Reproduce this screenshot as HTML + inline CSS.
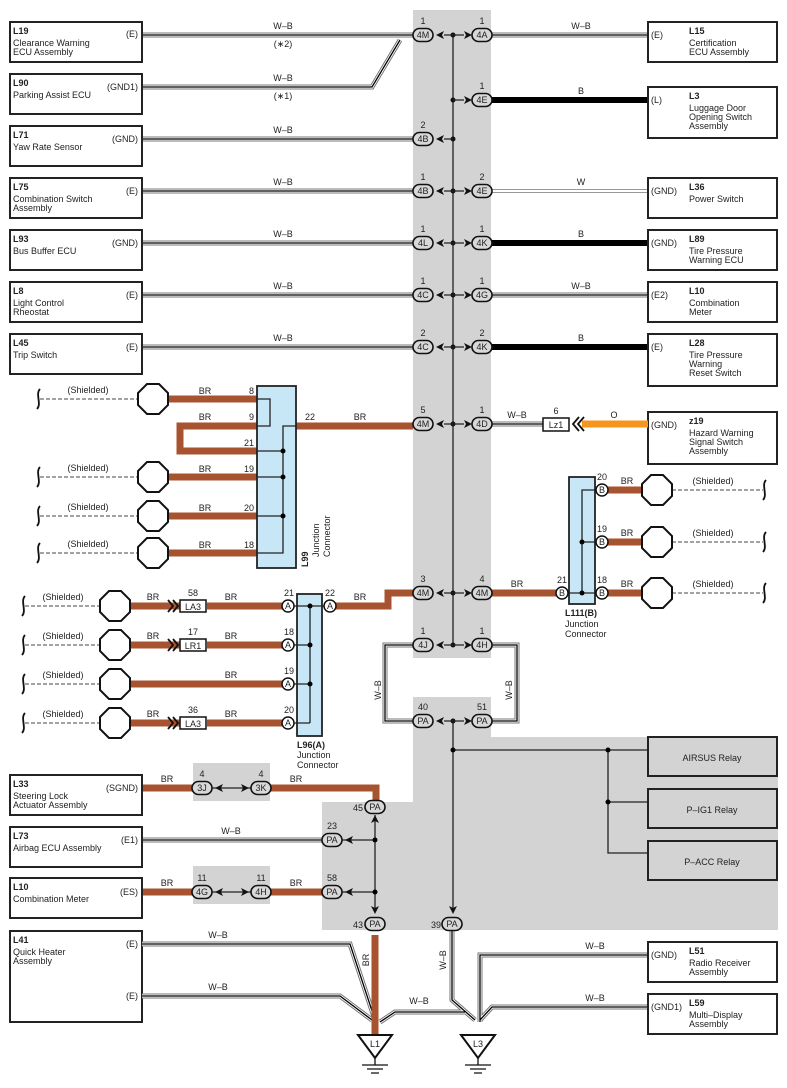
<!DOCTYPE html>
<html><head><meta charset="utf-8">
<style>
body{margin:0;background:#fff}
svg{display:block;font-family:"Liberation Sans",Arial,sans-serif}
text{font-size:9px;fill:#222}
.b{font-weight:bold}
.wb1{fill:none;stroke:#777;stroke-width:5}
.wb2{fill:none;stroke:#fff;stroke-width:3}
.wb3{fill:none;stroke:#000;stroke-width:1.3}
.br{fill:none;stroke:#a8532f;stroke-width:7}
.bk{fill:none;stroke:#000;stroke-width:6}
.box{fill:#fff;stroke:#222;stroke-width:2}
.pill{fill:#d8d8d8;stroke:#111;stroke-width:1.6}
.pt{font-size:8px;text-anchor:middle}
.ln{stroke:#222;stroke-width:1.3;fill:none}
.oct{fill:#fff;stroke:#111;stroke-width:2}
.dash{stroke:#444;stroke-width:1;stroke-dasharray:4,2;fill:none}
.pc{fill:#fff;stroke:#111;stroke-width:1.5}
.mid{text-anchor:middle}
</style></head><body>
<svg width="787" height="1088" viewBox="0 0 787 1088">
<rect x="413" y="10" width="78" height="648" fill="#d3d3d4"/>
<polygon points="413,697 491,697 491,737 778,737 778,930 322,930 322,802 413,802" fill="#d3d3d4"/>
<rect x="193" y="763" width="77" height="38" fill="#d3d3d4"/>
<rect x="193" y="866" width="77" height="38" fill="#d3d3d4"/>

<line class="ln" x1="453" y1="35" x2="453" y2="645"/>
<line class="ln" x1="453" y1="721" x2="453" y2="912"/>

<g>
<path class="wb1" d="M142,35H413 M142,87H372L400,40 M142,139H413 M142,191H413 M142,243H413 M142,295H413 M142,347H413"/>
<path class="wb2" d="M142,35H413 M142,87H372L400,40 M142,139H413 M142,191H413 M142,243H413 M142,295H413 M142,347H413"/>
<path class="wb3" d="M142,35H413 M142,87H372L400,40 M142,139H413 M142,191H413 M142,243H413 M142,295H413 M142,347H413"/>
</g>
<g class="mid">
<text x="283" y="29">W–B</text><text x="283" y="47">(∗2)</text>
<text x="283" y="81">W–B</text><text x="283" y="99">(∗1)</text>
<text x="283" y="133">W–B</text><text x="283" y="185">W–B</text><text x="283" y="237">W–B</text><text x="283" y="289">W–B</text><text x="283" y="341">W–B</text>
</g>
<path class="wb1" d="M492,35H648 M492,243H648 M492,295H648"/>
<path class="wb2" d="M492,35H648 M492,243H648 M492,295H648"/>
<path class="wb3" d="M492,35H648 M492,243H648 M492,295H648"/>
<path d="M492,191H648" stroke="#999" stroke-width="4" fill="none"/><path d="M492,191H648" stroke="#fff" stroke-width="2" fill="none"/>
<path class="bk" d="M492,100H648 M492,243H648 M492,347H648"/>
<g class="mid">
<text x="581" y="29">W–B</text><text x="581" y="94">B</text><text x="581" y="185">W</text><text x="581" y="237">B</text><text x="581" y="289">W–B</text><text x="581" y="341">B</text>
</g>

<rect class="box" x="10" y="22" width="132" height="40"/><text x="13" y="34" class="b">L19</text><text x="13" y="46">Clearance Warning</text><text x="13" y="55">ECU Assembly</text><text x="138" y="37" text-anchor="end">(E)</text>
<rect class="box" x="10" y="74" width="132" height="40"/><text x="13" y="86" class="b">L90</text><text x="13" y="98">Parking Assist ECU</text><text x="138" y="90" text-anchor="end">(GND1)</text>
<rect class="box" x="10" y="126" width="132" height="40"/><text x="13" y="138" class="b">L71</text><text x="13" y="150">Yaw Rate Sensor</text><text x="138" y="142" text-anchor="end">(GND)</text>
<rect class="box" x="10" y="178" width="132" height="40"/><text x="13" y="190" class="b">L75</text><text x="13" y="202">Combination Switch</text><text x="13" y="211">Assembly</text><text x="138" y="194" text-anchor="end">(E)</text>
<rect class="box" x="10" y="230" width="132" height="40"/><text x="13" y="242" class="b">L93</text><text x="13" y="254">Bus Buffer ECU</text><text x="138" y="246" text-anchor="end">(GND)</text>
<rect class="box" x="10" y="282" width="132" height="40"/><text x="13" y="294" class="b">L8</text><text x="13" y="306">Light Control</text><text x="13" y="315">Rheostat</text><text x="138" y="298" text-anchor="end">(E)</text>
<rect class="box" x="10" y="334" width="132" height="40"/><text x="13" y="346" class="b">L45</text><text x="13" y="358">Trip Switch</text><text x="138" y="350" text-anchor="end">(E)</text>

<rect class="box" x="648" y="22" width="129" height="40"/><text x="651" y="38">(E)</text><text x="689" y="34" class="b">L15</text><text x="689" y="46">Certification</text><text x="689" y="55">ECU Assembly</text>
<rect class="box" x="648" y="87" width="129" height="51"/><text x="651" y="103">(L)</text><text x="689" y="99" class="b">L3</text><text x="689" y="111">Luggage Door</text><text x="689" y="120">Opening Switch</text><text x="689" y="129">Assembly</text>
<rect class="box" x="648" y="178" width="129" height="40"/><text x="651" y="194">(GND)</text><text x="689" y="190" class="b">L36</text><text x="689" y="202">Power Switch</text>
<rect class="box" x="648" y="230" width="129" height="40"/><text x="651" y="246">(GND)</text><text x="689" y="242" class="b">L89</text><text x="689" y="254">Tire Pressure</text><text x="689" y="263">Warning ECU</text>
<rect class="box" x="648" y="282" width="129" height="40"/><text x="651" y="298">(E2)</text><text x="689" y="294" class="b">L10</text><text x="689" y="306">Combination</text><text x="689" y="315">Meter</text>
<rect class="box" x="648" y="334" width="129" height="52"/><text x="651" y="350">(E)</text><text x="689" y="346" class="b">L28</text><text x="689" y="358">Tire Pressure</text><text x="689" y="367">Warning</text><text x="689" y="376">Reset Switch</text>
<rect class="box" x="648" y="412" width="129" height="52"/><text x="651" y="428">(GND)</text><text x="689" y="424" class="b">z19</text><text x="689" y="436">Hazard Warning</text><text x="689" y="445">Signal Switch</text><text x="689" y="454">Assembly</text>

<path class="wb1" d="M492,424H543"/><path class="wb2" d="M492,424H543"/><path class="wb3" d="M492,424H543"/>
<text x="517" y="418" class="mid">W–B</text>
<rect x="543" y="418" width="26" height="13" fill="#fff" stroke="#111" stroke-width="1.5"/><text x="556" y="428" class="mid">Lz1</text><text x="556" y="414" class="mid">6</text>
<path d="M582,424H648" stroke="#f7941d" stroke-width="7"/>
<path d="M579,417l-6,7l6,7M584,417l-6,7l6,7" stroke="#111" stroke-width="1.8" fill="none"/>
<text x="614" y="418" class="mid">O</text>

<path class="br" d="M168,399H257 M168,477H257 M168,516H257 M168,553H257 M257,426H180V451H257 M296,426H413"/>
<rect x="257" y="386" width="39" height="182" fill="#c7e7f6" stroke="#222" stroke-width="1.8"/>
<path class="ln" d="M257,399H270V426H257 M296,426H283V553H257 M257,451H283 M257,477H283 M257,516H283" stroke-width="1"/>
<circle cx="283" cy="451" r="2.5"/><circle cx="283" cy="477" r="2.5"/><circle cx="283" cy="516" r="2.5"/>
<g text-anchor="end"><text x="254" y="394">8</text><text x="254" y="420">9</text><text x="254" y="446">21</text><text x="254" y="472">19</text><text x="254" y="511">20</text><text x="254" y="548">18</text></g>
<g class="mid"><text x="205" y="394">BR</text><text x="205" y="420">BR</text><text x="205" y="472">BR</text><text x="205" y="511">BR</text><text x="205" y="548">BR</text><text x="360" y="420">BR</text></g>
<text x="305" y="420">22</text>
<text transform="translate(308,567) rotate(-90)" class="b">L99</text>
<text transform="translate(319,557) rotate(-90)">Junction</text>
<text transform="translate(330,557) rotate(-90)">Connector</text>

<g>
<path class="dash" d="M40,399H138 M40,477H138 M40,516H138 M40,553H138 M25,606H100 M25,645H100 M25,684H100 M25,723H100"/>
<path class="dash" d="M672,490H763 M672,542H763 M672,593H763"/>
<g class="mid"><text x="88" y="393">(Shielded)</text><text x="88" y="471">(Shielded)</text><text x="88" y="510">(Shielded)</text><text x="88" y="547">(Shielded)</text>
<text x="63" y="600">(Shielded)</text><text x="63" y="639">(Shielded)</text><text x="63" y="678">(Shielded)</text><text x="63" y="717">(Shielded)</text>
<text x="713" y="484">(Shielded)</text><text x="713" y="536">(Shielded)</text><text x="713" y="587">(Shielded)</text></g>
<path d="M40,389c-5,5 2,15 -3,20 M40,467c-5,5 2,15 -3,20 M40,506c-5,5 2,15 -3,20 M40,543c-5,5 2,15 -3,20 M25,596c-5,5 2,15 -3,20 M25,635c-5,5 2,15 -3,20 M25,674c-5,5 2,15 -3,20 M25,713c-5,5 2,15 -3,20 M766,480c-5,5 2,15 -3,20 M766,532c-5,5 2,15 -3,20 M766,583c-5,5 2,15 -3,20" stroke="#111" stroke-width="1.8" fill="none"/>
</g>

<path class="br" d="M128,606H180 M207,606H288 M128,645H180 M207,645H288 M128,684H288 M128,723H180 M207,723H288 M330,606H388V593H413"/>
<rect x="297" y="594" width="25" height="142" fill="#c7e7f6" stroke="#222" stroke-width="1.8"/>
<path class="ln" d="M288,606H330 M288,645H310 M288,684H310 M288,723H310 M310,606V723" stroke-width="1"/>
<circle cx="310" cy="606" r="2.5"/><circle cx="310" cy="645" r="2.5"/><circle cx="310" cy="684" r="2.5"/>
<g>
<circle class="pc" cx="288" cy="606" r="6"/><circle class="pc" cx="288" cy="645" r="6"/><circle class="pc" cx="288" cy="684" r="6"/><circle class="pc" cx="288" cy="723" r="6"/><circle class="pc" cx="330" cy="606" r="6"/>
<g class="pt"><text x="288" y="609">A</text><text x="288" y="648">A</text><text x="288" y="687">A</text><text x="288" y="726">A</text><text x="330" y="609">A</text></g>
<g class="mid"><text x="289" y="596">21</text><text x="289" y="635">18</text><text x="289" y="674">19</text><text x="289" y="713">20</text><text x="330" y="596">22</text></g>
</g>
<rect x="180" y="600" width="26" height="12" fill="#fff" stroke="#111" stroke-width="1.5"/><text x="193" y="610" class="mid">LA3</text><text x="193" y="596" class="mid">58</text>
<rect x="180" y="639" width="26" height="12" fill="#fff" stroke="#111" stroke-width="1.5"/><text x="193" y="649" class="mid">LR1</text><text x="193" y="635" class="mid">17</text>
<rect x="180" y="717" width="26" height="12" fill="#fff" stroke="#111" stroke-width="1.5"/><text x="193" y="727" class="mid">LA3</text><text x="193" y="713" class="mid">36</text>
<path d="M168,600l5,6l-5,6M173,600l5,6l-5,6M168,639l5,6l-5,6M173,639l5,6l-5,6M168,717l5,6l-5,6M173,717l5,6l-5,6" stroke="#111" stroke-width="1.8" fill="none"/>
<g class="mid"><text x="153" y="600">BR</text><text x="231" y="600">BR</text><text x="153" y="639">BR</text><text x="231" y="639">BR</text><text x="231" y="678">BR</text><text x="153" y="717">BR</text><text x="231" y="717">BR</text><text x="360" y="600">BR</text></g>
<text x="297" y="748" class="b">L96(A)</text><text x="297" y="758">Junction</text><text x="297" y="768">Connector</text>

<path class="br" d="M492,593H562 M602,490H645 M602,542H645 M602,593H645"/>
<rect x="569" y="477" width="26" height="127" fill="#c7e7f6" stroke="#222" stroke-width="1.8"/>
<path class="ln" d="M562,593H602 M602,490H582V593 M582,542H602" stroke-width="1"/>
<circle cx="582" cy="542" r="2.5"/><circle cx="582" cy="593" r="2.5"/>
<circle class="pc" cx="562" cy="593" r="6"/><circle class="pc" cx="602" cy="490" r="6"/><circle class="pc" cx="602" cy="542" r="6"/><circle class="pc" cx="602" cy="593" r="6"/>
<g class="pt"><text x="562" y="596">B</text><text x="602" y="493">B</text><text x="602" y="545">B</text><text x="602" y="596">B</text></g>
<g class="mid"><text x="562" y="583">21</text><text x="602" y="480">20</text><text x="602" y="532">19</text><text x="602" y="583">18</text>
<text x="517" y="587">BR</text><text x="627" y="484">BR</text><text x="627" y="536">BR</text><text x="627" y="587">BR</text></g>
<text x="565" y="616" class="b">L111(B)</text><text x="565" y="627">Junction</text><text x="565" y="637">Connector</text>

<g class="oct">
<polygon points="147,384 159,384 168,393 168,405 159,414 147,414 138,405 138,393"/>
<polygon points="147,462 159,462 168,471 168,483 159,492 147,492 138,483 138,471"/>
<polygon points="147,501 159,501 168,510 168,522 159,531 147,531 138,522 138,510"/>
<polygon points="147,538 159,538 168,547 168,559 159,568 147,568 138,559 138,547"/>
<polygon points="109,591 121,591 130,600 130,612 121,621 109,621 100,612 100,600"/>
<polygon points="109,630 121,630 130,639 130,651 121,660 109,660 100,651 100,639"/>
<polygon points="109,669 121,669 130,678 130,690 121,699 109,699 100,690 100,678"/>
<polygon points="109,708 121,708 130,717 130,729 121,738 109,738 100,729 100,717"/>
<polygon points="651,475 663,475 672,484 672,496 663,505 651,505 642,496 642,484"/>
<polygon points="651,527 663,527 672,536 672,548 663,557 651,557 642,548 642,536"/>
<polygon points="651,578 663,578 672,587 672,599 663,608 651,608 642,599 642,587"/>
</g>

<path class="wb1" d="M413,645H385V721H413 M492,645H517V721H492"/><path class="wb2" d="M413,645H385V721H413 M492,645H517V721H492"/><path class="wb3" d="M413,645H385V721H413 M492,645H517V721H492"/>
<text transform="translate(381,690) rotate(-90)" class="mid">W–B</text>
<text transform="translate(512,690) rotate(-90)" class="mid">W–B</text>

<path class="ln" d="M453,750H648 M608,750V853H648 M608,802H648"/>
<circle cx="453" cy="750" r="2.5"/><circle cx="608" cy="750" r="2.5"/><circle cx="608" cy="802" r="2.5"/>
<rect x="648" y="737" width="129" height="39" fill="#d3d3d4" stroke="#222" stroke-width="2"/><text x="712" y="761" class="mid">AIRSUS Relay</text>
<rect x="648" y="789" width="129" height="39" fill="#d3d3d4" stroke="#222" stroke-width="2"/><text x="712" y="813" class="mid">P–IG1 Relay</text>
<rect x="648" y="841" width="129" height="39" fill="#d3d3d4" stroke="#222" stroke-width="2"/><text x="712" y="865" class="mid">P–ACC Relay</text>

<path class="br" d="M142,788H193 M270,788H376V800 M142,892H193 M270,892H322 M375,935V1040"/>
<path class="wb1" d="M142,840H322"/><path class="wb2" d="M142,840H322"/><path class="wb3" d="M142,840H322"/>
<path class="ln" d="M375,815V912 M342,840H375 M342,892H375 M212,788H252 M212,892H252"/>
<circle cx="375" cy="840" r="2.5"/><circle cx="375" cy="892" r="2.5"/>
<rect class="box" x="10" y="775" width="132" height="40"/><text x="13" y="787" class="b">L33</text><text x="13" y="799">Steering Lock</text><text x="13" y="808">Actuator Assembly</text><text x="138" y="791" text-anchor="end">(SGND)</text>
<rect class="box" x="10" y="827" width="132" height="40"/><text x="13" y="839" class="b">L73</text><text x="13" y="851">Airbag ECU Assembly</text><text x="138" y="843" text-anchor="end">(E1)</text>
<rect class="box" x="10" y="878" width="132" height="40"/><text x="13" y="890" class="b">L10</text><text x="13" y="902">Combination Meter</text><text x="138" y="895" text-anchor="end">(ES)</text>
<rect class="box" x="10" y="931" width="132" height="91"/><text x="13" y="943" class="b">L41</text><text x="13" y="955">Quick Heater</text><text x="13" y="964">Assembly</text><text x="138" y="947" text-anchor="end">(E)</text><text x="138" y="999" text-anchor="end">(E)</text>
<g class="mid"><text x="167" y="782">BR</text><text x="296" y="782">BR</text><text x="231" y="834">W–B</text><text x="167" y="886">BR</text><text x="296" y="886">BR</text>
<text x="202" y="777">4</text><text x="261" y="777">4</text><text x="202" y="881">11</text><text x="261" y="881">11</text>
<text x="332" y="829">23</text><text x="332" y="881">58</text></g>
<text x="363" y="811" text-anchor="end">45</text><text x="363" y="928" text-anchor="end">43</text><text x="441" y="928" text-anchor="end">39</text>
<text transform="translate(369,960) rotate(-90)" class="mid">BR</text>
<text transform="translate(446,960) rotate(-90)" class="mid">W–B</text>

<path class="wb1" d="M142,944H350L375,1020 M142,996H340L372,1020 M465,1012H395L380,1022 M452,930V1000L475,1020 M648,955H480V1022 M648,1007H492L480,1020"/>
<path class="wb2" d="M142,944H350L375,1020 M142,996H340L372,1020 M465,1012H395L380,1022 M452,930V1000L475,1020 M648,955H480V1022 M648,1007H492L480,1020"/>
<path class="wb3" d="M142,944H350L375,1020 M142,996H340L372,1020 M465,1012H395L380,1022 M452,930V1000L475,1020 M648,955H480V1022 M648,1007H492L480,1020"/>
<path class="br" d="M375,935V1040"/>
<g class="mid"><text x="218" y="938">W–B</text><text x="218" y="990">W–B</text><text x="419" y="1004">W–B</text><text x="595" y="949">W–B</text><text x="595" y="1001">W–B</text></g>
<rect class="box" x="648" y="942" width="129" height="40"/><text x="651" y="958">(GND)</text><text x="689" y="954" class="b">L51</text><text x="689" y="966">Radio Receiver</text><text x="689" y="975">Assembly</text>
<rect class="box" x="648" y="994" width="129" height="40"/><text x="651" y="1010">(GND1)</text><text x="689" y="1006" class="b">L59</text><text x="689" y="1018">Multi–Display</text><text x="689" y="1027">Assembly</text>
<polygon points="358,1035 392,1035 375,1058" fill="#fff" stroke="#111" stroke-width="2"/><text x="375" y="1047" class="mid">L1</text>
<path d="M375,1058V1065 M362,1065H388 M367,1069H383 M371,1073H379" stroke="#111" stroke-width="1.3"/>
<polygon points="461,1035 495,1035 478,1058" fill="#fff" stroke="#111" stroke-width="2"/><text x="478" y="1047" class="mid">L3</text>
<path d="M478,1058V1065 M465,1065H491 M470,1069H486 M474,1073H482" stroke="#111" stroke-width="1.3"/>

<g fill="#111">
<path d="M436,35l8,-4l-2,4l2,4z M472,35l-8,-4l2,4l-2,4z"/>
<path d="M472,100l-8,-4l2,4l-2,4z"/>
<path d="M436,139l8,-4l-2,4l2,4z"/>
<path d="M436,191l8,-4l-2,4l2,4z M472,191l-8,-4l2,4l-2,4z"/>
<path d="M436,243l8,-4l-2,4l2,4z M472,243l-8,-4l2,4l-2,4z"/>
<path d="M436,295l8,-4l-2,4l2,4z M472,295l-8,-4l2,4l-2,4z"/>
<path d="M436,347l8,-4l-2,4l2,4z M472,347l-8,-4l2,4l-2,4z"/>
<path d="M436,424l8,-4l-2,4l2,4z M472,424l-8,-4l2,4l-2,4z"/>
<path d="M436,593l8,-4l-2,4l2,4z M472,593l-8,-4l2,4l-2,4z"/>
<path d="M436,645l8,-4l-2,4l2,4z M472,645l-8,-4l2,4l-2,4z"/>
<path d="M436,721l8,-4l-2,4l2,4z M472,721l-8,-4l2,4l-2,4z"/>
<path d="M345,840l8,-4l-2,4l2,4z M345,892l8,-4l-2,4l2,4z"/>
<path d="M215,788l8,-4l-2,4l2,4z M249,788l-8,-4l2,4l-2,4z M215,892l8,-4l-2,4l2,4z M249,892l-8,-4l2,4l-2,4z"/>
<path d="M375,815l-4,8l4,-2l4,2z M375,914l-4,-8l4,2l4,-2z M453,914l-4,-8l4,2l4,-2z"/>
<circle cx="453" cy="35" r="2.5"/><circle cx="453" cy="100" r="2.5"/><circle cx="453" cy="139" r="2.5"/><circle cx="453" cy="191" r="2.5"/><circle cx="453" cy="243" r="2.5"/><circle cx="453" cy="295" r="2.5"/><circle cx="453" cy="347" r="2.5"/><circle cx="453" cy="424" r="2.5"/><circle cx="453" cy="593" r="2.5"/><circle cx="453" cy="645" r="2.5"/><circle cx="453" cy="721" r="2.5"/>
</g>
<path class="ln" d="M444,35H464 M453,100H464 M444,139H453 M444,191H464 M444,243H464 M444,295H464 M444,347H464 M444,424H464 M444,593H464 M444,645H464 M444,721H464"/>

<g>
<rect class="pill" x="413" y="28.5" width="20" height="13" rx="6.5"/><rect class="pill" x="472" y="28.5" width="20" height="13" rx="6.5"/>
<rect class="pill" x="472" y="93.5" width="20" height="13" rx="6.5"/>
<rect class="pill" x="413" y="132.5" width="20" height="13" rx="6.5"/>
<rect class="pill" x="413" y="184.5" width="20" height="13" rx="6.5"/><rect class="pill" x="472" y="184.5" width="20" height="13" rx="6.5"/>
<rect class="pill" x="413" y="236.5" width="20" height="13" rx="6.5"/><rect class="pill" x="472" y="236.5" width="20" height="13" rx="6.5"/>
<rect class="pill" x="413" y="288.5" width="20" height="13" rx="6.5"/><rect class="pill" x="472" y="288.5" width="20" height="13" rx="6.5"/>
<rect class="pill" x="413" y="340.5" width="20" height="13" rx="6.5"/><rect class="pill" x="472" y="340.5" width="20" height="13" rx="6.5"/>
<rect class="pill" x="413" y="417.5" width="20" height="13" rx="6.5"/><rect class="pill" x="472" y="417.5" width="20" height="13" rx="6.5"/>
<rect class="pill" x="413" y="586.5" width="20" height="13" rx="6.5"/><rect class="pill" x="472" y="586.5" width="20" height="13" rx="6.5"/>
<rect class="pill" x="413" y="638.5" width="20" height="13" rx="6.5"/><rect class="pill" x="472" y="638.5" width="20" height="13" rx="6.5"/>
<rect class="pill" x="413" y="714.5" width="20" height="13" rx="6.5"/><rect class="pill" x="472" y="714.5" width="20" height="13" rx="6.5"/>
<rect class="pill" x="192" y="781.5" width="20" height="13" rx="6.5"/><rect class="pill" x="251" y="781.5" width="20" height="13" rx="6.5"/>
<rect class="pill" x="192" y="885.5" width="20" height="13" rx="6.5"/><rect class="pill" x="251" y="885.5" width="20" height="13" rx="6.5"/>
<rect class="pill" x="365" y="800.5" width="20" height="13" rx="6.5"/>
<rect class="pill" x="322" y="833.5" width="20" height="13" rx="6.5"/>
<rect class="pill" x="322" y="885.5" width="20" height="13" rx="6.5"/>
<rect class="pill" x="365" y="917.5" width="20" height="13" rx="6.5"/>
<rect class="pill" x="442" y="917.5" width="20" height="13" rx="6.5"/>
</g>
<g class="pt">
<text x="423" y="38">4M</text><text x="482" y="38">4A</text><text x="482" y="103">4E</text><text x="423" y="142">4B</text>
<text x="423" y="194">4B</text><text x="482" y="194">4E</text><text x="423" y="246">4L</text><text x="482" y="246">4K</text>
<text x="423" y="298">4C</text><text x="482" y="298">4G</text><text x="423" y="350">4C</text><text x="482" y="350">4K</text>
<text x="423" y="427">4M</text><text x="482" y="427">4D</text><text x="423" y="596">4M</text><text x="482" y="596">4M</text>
<text x="423" y="648">4J</text><text x="482" y="648">4H</text><text x="423" y="724">PA</text><text x="482" y="724">PA</text>
<text x="202" y="791">3J</text><text x="261" y="791">3K</text><text x="202" y="895">4G</text><text x="261" y="895">4H</text>
<text x="375" y="810">PA</text><text x="332" y="843">PA</text><text x="332" y="895">PA</text><text x="375" y="927">PA</text><text x="452" y="927">PA</text>
</g>
<g class="mid">
<text x="423" y="24">1</text><text x="482" y="24">1</text><text x="482" y="89">1</text><text x="423" y="128">2</text>
<text x="423" y="180">1</text><text x="482" y="180">2</text><text x="423" y="232">1</text><text x="482" y="232">1</text>
<text x="423" y="284">1</text><text x="482" y="284">1</text><text x="423" y="336">2</text><text x="482" y="336">2</text>
<text x="423" y="413">5</text><text x="482" y="413">1</text><text x="423" y="582">3</text><text x="482" y="582">4</text>
<text x="423" y="634">1</text><text x="482" y="634">1</text><text x="423" y="710">40</text><text x="482" y="710">51</text>
</g>
</svg>
</body></html>
